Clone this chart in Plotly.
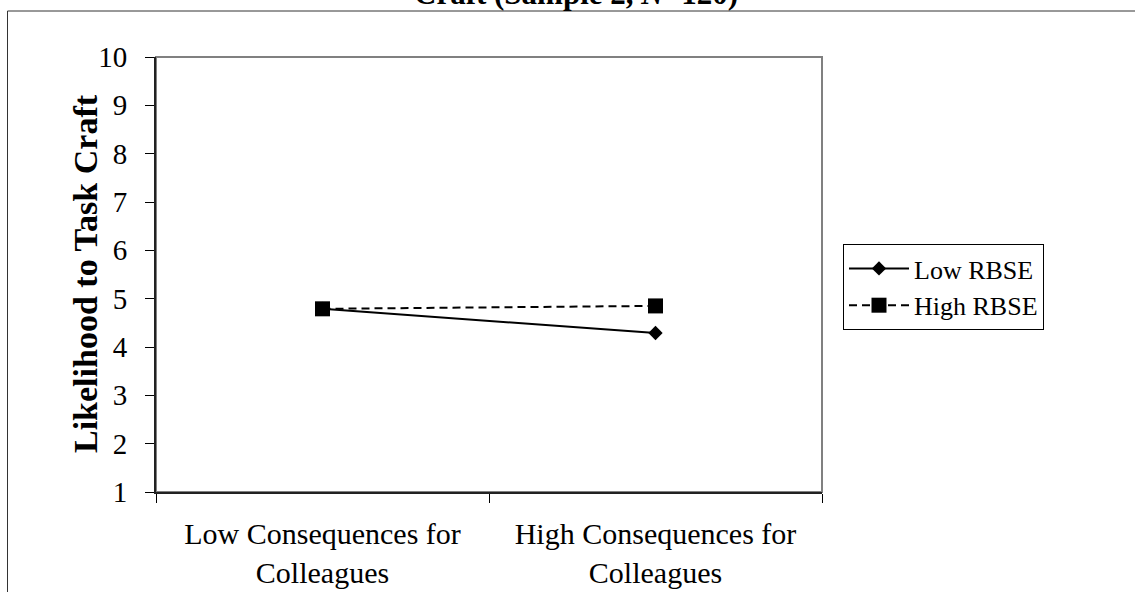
import plotly.graph_objects as go

categories = ["Low Consequences for<br>Colleagues", "High Consequences for<br>Colleagues"]
low_rbse = [4.79, 4.29]
high_rbse = [4.79, 4.85]
series_names = ["Low RBSE", "High RBSE"]
y_ticks = list(range(1, 11))

FONT = "Liberation Serif, Times New Roman, serif"
W, H = 1135, 592
L, R, T, B = 156, 313, 57, 100
pw, ph = W - L - R, H - T - B

def px_x(p):
    return (p - L) / pw

def px_y(p):
    return (H - B - p) / ph

fig = go.Figure()
fig.add_trace(go.Scatter(
    x=categories, y=low_rbse, name=series_names[0], mode="lines+markers",
    line=dict(color="black", width=2, dash="solid"),
    marker=dict(symbol="diamond", size=11, color="black"),
))
fig.add_trace(go.Scatter(
    x=categories, y=high_rbse, name=series_names[1], mode="lines+markers",
    line=dict(color="black", width=2, dash="8px,5px"),
    marker=dict(symbol="square", size=15, color="black"),
))

# gray plot frame
fig.add_shape(type="rect", xref="paper", yref="paper", x0=0, x1=1, y0=0, y1=1,
              line=dict(color="#808080", width=2), layer="below")
# outer chart border
fig.add_shape(type="rect", xref="paper", yref="paper",
              x0=px_x(7.5), x1=px_x(1145), y0=px_y(605), y1=px_y(11),
              line=dict(color="#333333", width=1), layer="below")

fig.add_annotation(text="<b>Craft (Sample 2, <i>N</i>=120)</b>", xref="paper", yref="paper",
                   x=px_x(576), y=px_y(-6), xanchor="center", yanchor="middle",
                   showarrow=False, font=dict(family=FONT, size=31, color="black"))

fig.add_annotation(text="<b>Likelihood to Task Craft</b>", xref="paper", yref="paper",
                   x=px_x(85), y=px_y(274), xanchor="center", yanchor="middle",
                   textangle=-90, showarrow=False,
                   font=dict(family=FONT, size=34, color="black"))

fig.update_layout(
    width=W, height=H,
    margin=dict(l=L, r=R, t=T, b=B, autoexpand=False),
    paper_bgcolor="white", plot_bgcolor="white",
    font=dict(family=FONT, color="black"),
    showlegend=True,
    legend=dict(x=px_x(843), y=px_y(244), xanchor="left", yanchor="top",
                bordercolor="black", borderwidth=1, bgcolor="white",
                font=dict(family=FONT, size=26, color="black"),
                itemwidth=60, entrywidth=240, entrywidthmode="pixels"),
    xaxis=dict(type="category", range=[-0.5, 1.5], tickson="boundaries",
               automargin=False,
               ticks="outside", ticklen=9, tickcolor="black", tickwidth=1,
               showline=True, linecolor="#222222", linewidth=2,
               showgrid=False, zeroline=False, ticklabelstandoff=14,
               tickfont=dict(family=FONT, size=30, color="black")),
    yaxis=dict(range=[1, 10], tickvals=y_ticks, ticks="outside", ticklen=9,
               automargin=False,
               tickcolor="black", tickwidth=1, showline=True, linecolor="#222222",
               linewidth=2, showgrid=False, zeroline=False, ticklabelstandoff=12,
               tickfont=dict(family=FONT, size=29, color="black")),
)

fig.write_html("out.html", config={"displayModeBar": False},
               post_script="document.body.style.margin='0px';")
